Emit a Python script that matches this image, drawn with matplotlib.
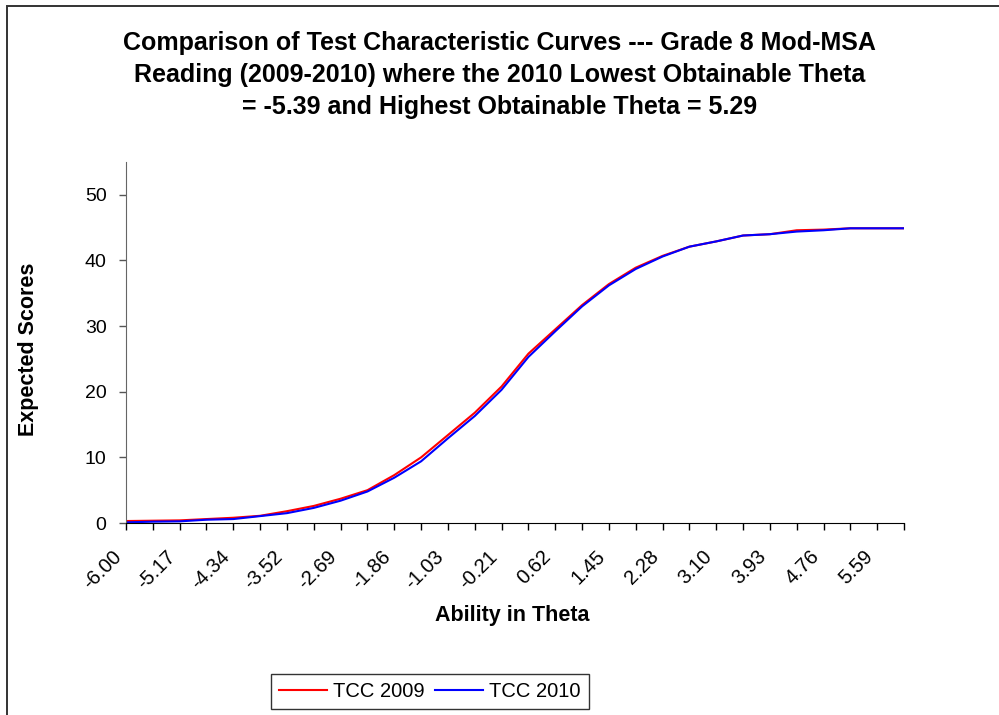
import matplotlib
matplotlib.use("Agg")
import matplotlib.pyplot as plt
from matplotlib.patches import Rectangle
from matplotlib.transforms import ScaledTranslation

plt.rcParams['font.family'] = ['Liberation Sans', 'DejaVu Sans']

theta = [-6.00, -5.59, -5.17, -4.76, -4.34, -3.93, -3.52, -3.10, -2.69, -2.28,
         -1.86, -1.45, -1.03, -0.62, -0.21, 0.21, 0.62, 1.03, 1.45, 1.86,
         2.28, 2.69, 3.10, 3.52, 3.93, 4.34, 4.76, 5.17, 5.59, 6.00]
tcc_2009 = [0.3, 0.35, 0.4, 0.6, 0.8, 1.1, 1.8, 2.6, 3.7, 5.0,
            7.3, 10.0, 13.4, 16.8, 20.8, 25.8, 29.5, 33.2, 36.4, 38.9,
            40.7, 42.1, 42.9, 43.8, 44.0, 44.6, 44.7, 44.9, 44.9, 44.9]
tcc_2010 = [0.1, 0.2, 0.25, 0.5, 0.6, 1.05, 1.5, 2.3, 3.4, 4.8,
            6.9, 9.4, 12.9, 16.3, 20.3, 25.3, 29.2, 33.0, 36.2, 38.7,
            40.6, 42.1, 42.9, 43.8, 44.0, 44.4, 44.6, 44.9, 44.9, 44.9]
y_ticks = [0, 10, 20, 30, 40, 50]

title_lines = ["Comparison of Test Characteristic Curves --- Grade 8 Mod-MSA",
               "Reading (2009-2010) where the 2010 Lowest Obtainable Theta",
               "= -5.39 and Highest Obtainable Theta = 5.29"]

W, H = 999, 715
fig = plt.figure(figsize=(W / 100, H / 100), dpi=100)
fig.patch.set_facecolor('white')
fig.patches.append(Rectangle((7 / W, -0.05), 1.1, 1 - 6 / H + 0.05,
                             transform=fig.transFigure, fill=False,
                             edgecolor='#333333', linewidth=1.4))

L, R, T, B = 126, 904, 162, 523
aw, ah = R - L, B - T
ax = fig.add_axes([L / W, 1 - B / H, aw / W, ah / H])
idx = list(range(len(theta)))
ax.plot(idx, tcc_2009, color='#ff0000', lw=1.5, label='TCC 2009')
ax.plot(idx, tcc_2010, color='#0000ff', lw=1.5, label='TCC 2010')

ax.set_xlim(0, len(theta) - 1)
ax.set_ylim(0, 55)
ax.set_yticks(y_ticks)
ax.set_xticks(idx)
ax.tick_params(axis='x', direction='out', length=5, width=1, pad=17, color='black')
ax.tick_params(axis='y', direction='out', length=5, width=1, labelsize=14,
               color='#555555', pad=9)
ax.set_xticklabels([f"{t:.2f}" if i % 2 == 0 else "" for i, t in enumerate(theta)],
                   rotation=45, ha='right', va='center', rotation_mode='anchor',
                   fontsize=14.5)
shift = ScaledTranslation(-7 / 100, 0, fig.dpi_scale_trans)
for lab in ax.get_xticklabels():
    lab.set_transform(lab.get_transform() + shift)
for s in ['top', 'right']:
    ax.spines[s].set_visible(False)
ax.spines['left'].set_color('#666666')
ax.spines['bottom'].set_color('black')

ax.set_ylabel('Expected Scores', fontsize=15.5, fontweight='bold', va='center')
ax.yaxis.set_label_coords((29 - L) / aw, (B - 349) / ah)
ax.set_xlabel('Ability in Theta', fontsize=15.5, fontweight='bold', va='center')
ax.xaxis.set_label_coords((512 - L) / aw, -(616 - B) / ah)

for line, yb in zip(title_lines, [50, 82, 114]):
    fig.text(0.5, 1 - yb / H, line, ha='center', va='baseline', fontsize=18,
             fontweight='bold')

leg = ax.legend(loc='center', bbox_to_anchor=((430 - L) / aw, -(691.5 - B) / ah),
                ncol=2, frameon=True, fancybox=False, edgecolor='black',
                fontsize=14.5, handlelength=2.4, columnspacing=0.5,
                handletextpad=0.3, borderpad=0.4)
leg.get_frame().set_linewidth(1)

fig.savefig('out.png', dpi=100)
